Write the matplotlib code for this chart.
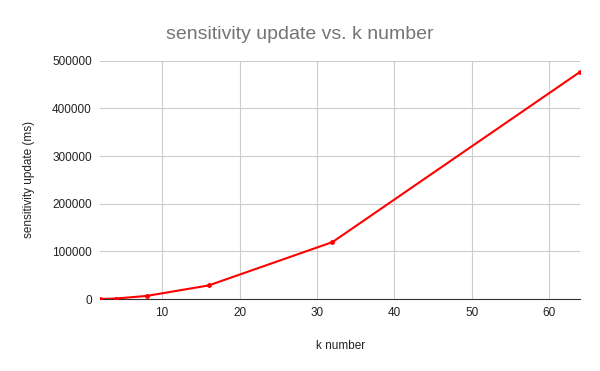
import matplotlib
matplotlib.use('Agg')
import matplotlib.pyplot as plt

k_number = [2, 4, 8, 16, 32, 64]
sens_update = [200, 1000, 6500, 28500, 119500, 477000]

plt.rcParams['font.family'] = ['Liberation Sans', 'DejaVu Sans']

fig = plt.figure(figsize=(6, 3.71), dpi=100)
ax = fig.add_axes([0.167, 0.194, 0.8, 0.642])

ax.plot(k_number, sens_update, color='#ff0000', lw=1.5, marker='o', ms=2.5, zorder=3)

ax.set_xlim(2, 64)
ax.set_ylim(0, 500000)
ax.set_xticks([10, 20, 30, 40, 50, 60])
ax.set_yticks([0, 100000, 200000, 300000, 400000, 500000])
ax.grid(True, color='#cccccc', lw=0.8)
ax.set_axisbelow(True)
for s in ['top', 'right', 'left']:
    ax.spines[s].set_visible(False)
ax.spines['bottom'].set_color('#333333')
ax.tick_params(length=0, labelsize=8.5, colors='#222222', pad=6)

ax.set_xlabel('k number', fontsize=8.5, color='#222222', labelpad=15)
ax.set_ylabel('sensitivity update (ms)', fontsize=8.5, color='#222222', labelpad=12)
fig.suptitle('sensitivity update vs. k number', fontsize=14, color='#757575', y=0.93)

fig.savefig('out.png', dpi=100)
